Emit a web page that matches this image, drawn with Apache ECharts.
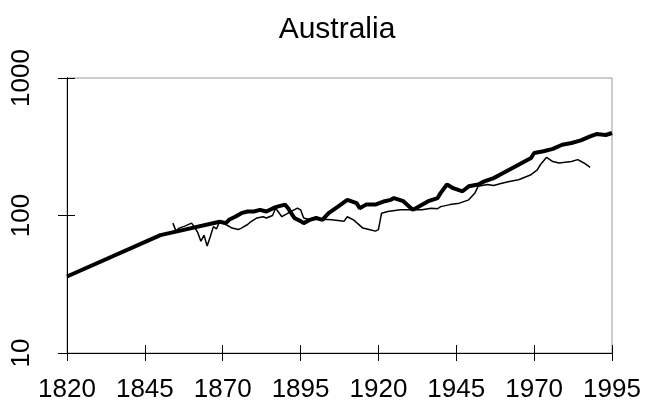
<!DOCTYPE html>
<html>
<head>
<meta charset="utf-8">
<script src="https://cdn.jsdelivr.net/npm/echarts@6/dist/echarts.min.js"></script>
<style>
html,body{margin:0;padding:0;background:#fff;}
#chart{width:647px;height:410px;}
</style>
</head>
<body>
<div id="chart"></div>
<script>
var titleText = "Australia";
var xTicks = [1820, 1845, 1870, 1895, 1920, 1945, 1970, 1995];
var yTicks = [10, 100, 1000];

var thickYears = [1820,1850,1869,1871,1872,1874,1876,1878,1880,1882,1884,1887,1890,1891,1892,1893,1895,1896,1898,1900,1902,1904,1907,1910,1913,1914,1916,1919,1922,1924,1925,1928,1931,1932,1936,1939,1940,1942,1944,1947,1949,1952,1954,1957,1959,1962,1965,1969,1970,1973,1976,1979,1982,1985,1988,1990,1993,1995];
var thickValues = [36,72,90,88,93,98,104,107,107,110,107,115,120,113,104,96,91,88,93,96,93,104,116,130,123,113,120,120,127,130,134,127,110,113,127,134,146,168,158,150,163,168,177,187,198,215,234,262,285,293,305,327,337,352,376,391,385,398];

var thinYears = [1854,1855,1856,1858,1860,1861,1862,1863,1864,1865,1866,1867,1868,1869,1871,1873,1875,1876,1878,1879,1881,1883,1884,1886,1887,1889,1892,1894,1895,1896,1898,1902,1905,1909,1910,1912,1915,1917,1919,1920,1921,1923,1927,1931,1934,1937,1939,1940,1943,1946,1949,1951,1952,1955,1957,1959,1962,1965,1969,1971,1972,1974,1976,1978,1982,1984,1986,1988];
var thinValues = [88,77,81,84,88,82,75,65,72,60,70,83,80,90,86,81,79,81,86,90,96,98,96,100,113,98,107,113,110,96,93,94,93,91,98,93,81,79,77,79,104,107,110,110,110,113,112,116,120,123,130,146,163,168,165,170,177,182,198,215,234,265,247,241,247,255,241,224];

function pairs(xs, ys){ return xs.map(function(x,i){ return [x, ys[i]]; }); }

var font = "Liberation Sans, Arial, sans-serif";
var chart = echarts.init(document.getElementById('chart'), null, {renderer:'canvas'});
var baseX = {
  type:'value', min:1820, max:1995, interval:25, gridIndex:0, position:'bottom',
  axisLine:{show:true, onZero:false, lineStyle:{color:'#000', width:1}},
  splitLine:{show:false}
};
var baseY = {
  type:'log', logBase:10, min:10, max:1000, gridIndex:0, position:'left',
  axisLine:{show:true, onZero:false, lineStyle:{color:'#000', width:1}},
  splitLine:{show:false}
};
chart.setOption({
  animation:false,
  backgroundColor:'#fff',
  title:{text:titleText, left:332, top:10, textAlign:'center',
    textStyle:{fontFamily:font, fontSize:30, fontWeight:'normal', color:'#000'}},
  grid:{left:67, right:35, top:78, bottom:57, show:true, borderColor:'#999', borderWidth:1},
  xAxis:[
    Object.assign({}, baseX, {
      axisTick:{show:true, inside:false, length:8, lineStyle:{color:'#000'}},
      axisLabel:{show:true, margin:24, fontFamily:font, fontSize:26, color:'#000',
        formatter:function(v){ return xTicks.indexOf(v) >= 0 ? String(v) : ''; }}
    }),
    Object.assign({}, baseX, {
      axisTick:{show:true, inside:true, length:8, lineStyle:{color:'#000'}},
      axisLabel:{show:false}
    })
  ],
  yAxis:[
    Object.assign({}, baseY, {
      axisTick:{show:true, inside:false, length:9, lineStyle:{color:'#000'}},
      axisLabel:{show:true, rotate:90, margin:32, fontFamily:font, fontSize:26, color:'#000',
        formatter:function(v){ return yTicks.indexOf(Math.round(v)) >= 0 ? String(Math.round(v)) : ''; }}
    }),
    Object.assign({}, baseY, {
      axisTick:{show:true, inside:true, length:8, lineStyle:{color:'#000'}},
      axisLabel:{show:false}
    })
  ],
  series:[
    {type:'line', name:'thin', xAxisIndex:0, yAxisIndex:0, data:pairs(thinYears, thinValues),
      showSymbol:false, symbol:'none', lineStyle:{color:'#000', width:1.5}, z:2},
    {type:'line', name:'thick', xAxisIndex:0, yAxisIndex:0, data:pairs(thickYears, thickValues),
      showSymbol:false, symbol:'none', lineStyle:{color:'#000', width:4}, z:3}
  ]
});
</script>
</body>
</html>
